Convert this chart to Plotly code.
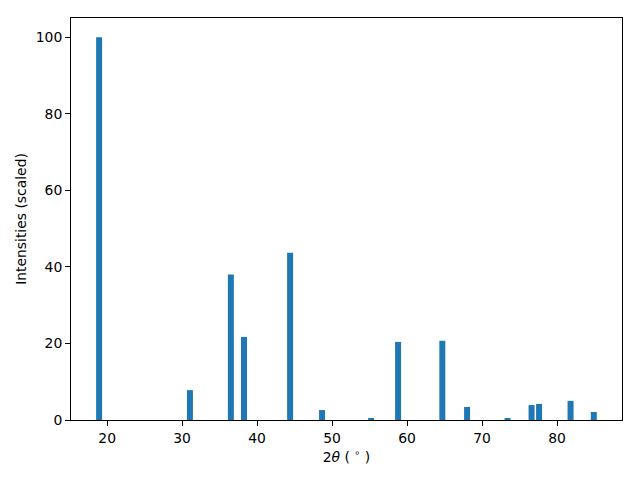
import plotly.graph_objects as go

two_theta = [18.93, 31.04, 36.5, 38.25, 44.4, 48.66, 55.2, 58.8, 64.7, 68.0, 73.4, 76.6, 77.6, 81.8, 84.9]
intensity = [100.0, 7.8, 38.0, 21.7, 43.7, 2.6, 0.5, 20.4, 20.7, 3.4, 0.5, 3.9, 4.2, 5.0, 2.1]
x_ticks = [20, 30, 40, 50, 60, 70, 80]
y_ticks = [0, 20, 40, 60, 80, 100]

FONT = "DejaVu Sans"
fig = go.Figure(go.Bar(x=two_theta, y=intensity, width=0.8,
                       marker=dict(color="#1f77b4", line=dict(width=0))))

axis_common = dict(showline=True, linecolor="black", linewidth=1.1, mirror=True,
                   ticks="outside", ticklen=4.9, tickwidth=1.1, tickcolor="black",
                   showgrid=False, zeroline=False, automargin=False,
                   tickfont=dict(family=FONT, size=13.9, color="black"))

fig.update_layout(
    width=640, height=480,
    margin=dict(l=71, r=18, t=18, b=60),
    plot_bgcolor="white", paper_bgcolor="white",
    showlegend=False,
    font=dict(family=FONT, size=13.9, color="black"),
    xaxis=dict(range=[15.18, 88.66], tickvals=x_ticks,
               title=dict(text="2<i>θ</i> ( <sup>∘</sup> )", font=dict(family=FONT, size=13.9), standoff=7),
               **axis_common),
    yaxis=dict(range=[0, 105], tickvals=y_ticks,
               title=dict(text="Intensities (scaled)", font=dict(family=FONT, size=13.9), standoff=5),
               **axis_common),
)

fig.write_html("out.html", config={"displayModeBar": False},
               post_script="document.body.style.margin='0';document.body.style.overflow='hidden';")
